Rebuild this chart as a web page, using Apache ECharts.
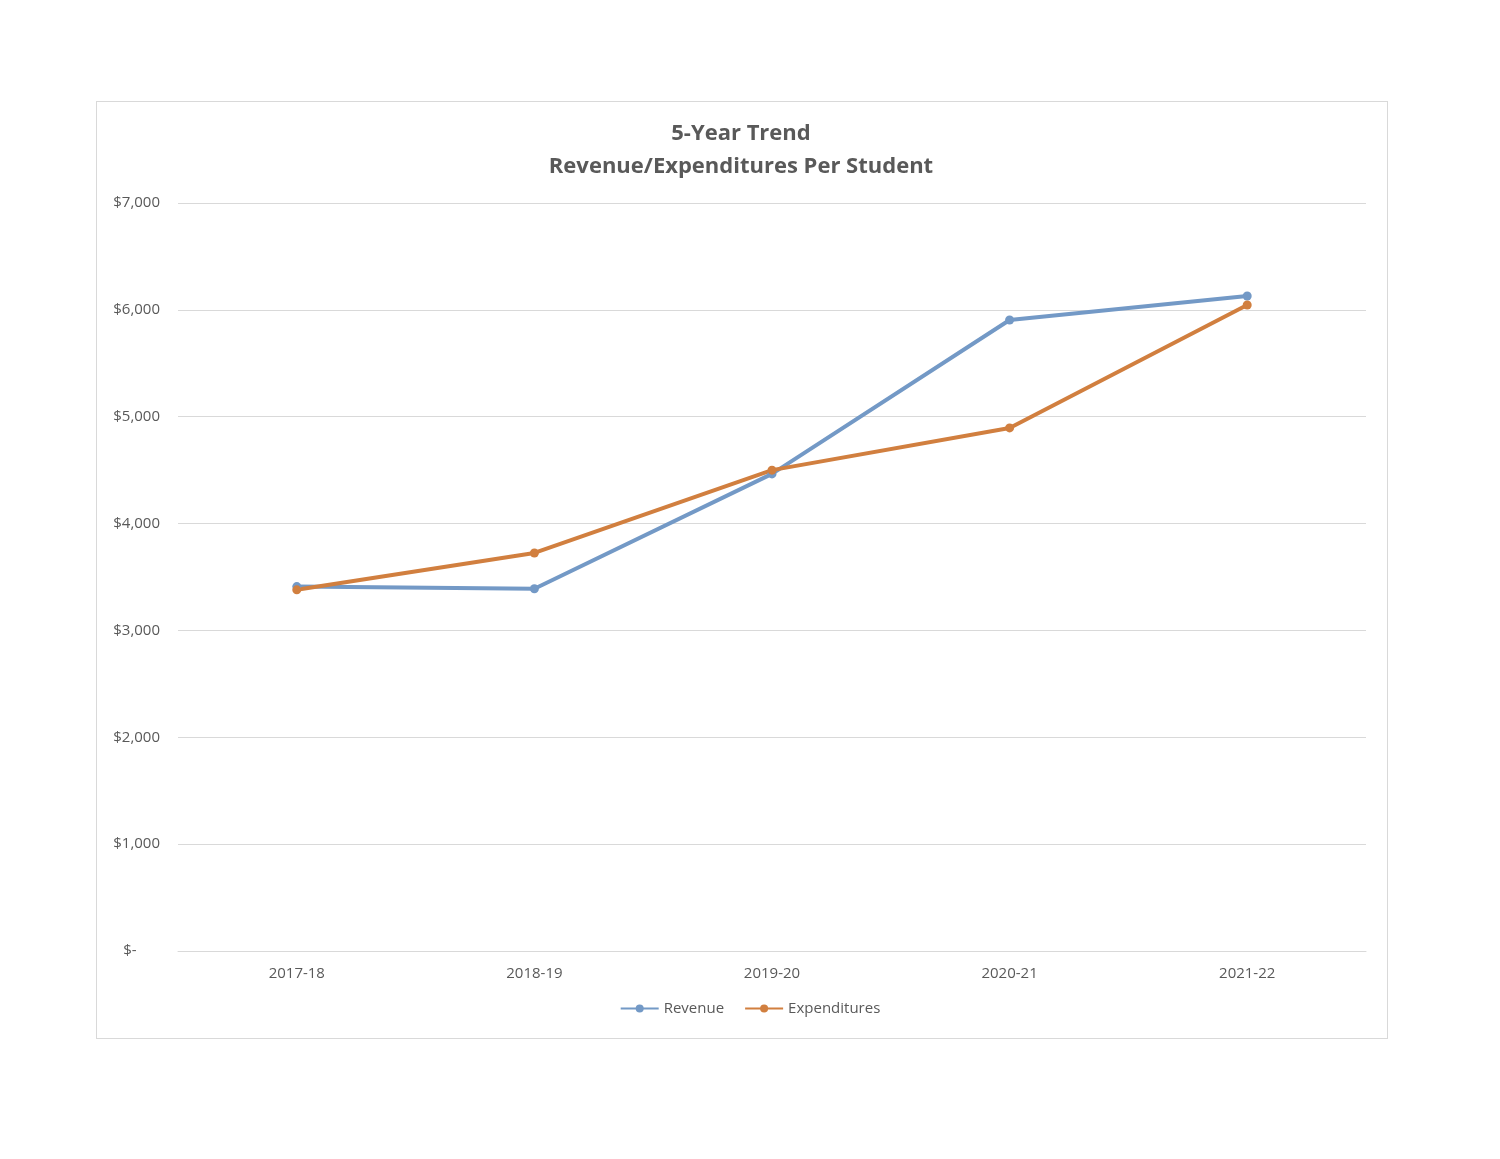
<!DOCTYPE html>
<html><head><meta charset="utf-8">
<script src="https://cdn.jsdelivr.net/npm/echarts@6/dist/echarts.min.js"></script>
<style>html,body{margin:0;padding:0;background:#fff}
#box{position:absolute;left:96px;top:101px;width:1290px;height:936px;border:1px solid #d9d9d9}
#c{position:absolute;left:0;top:0;width:1500px;height:1159px}</style>
</head><body><div id="box"></div><div id="c"></div>
<script>
const categories = ["2017-18","2018-19","2019-20","2020-21","2021-22"];
const revenue = [3410,3390,4465,5905,6130];
const expenditures = [3380,3725,4500,4895,6045];
const chart = echarts.init(document.getElementById('c'));
const font = "Open Sans, Lato, sans-serif";
chart.setOption({
  animation:false,
  title:{text:"5-Year Trend\nRevenue/Expenditures Per Student",left:736,textAlign:'center',top:112,
    textStyle:{fontSize:22,fontWeight:'bold',color:'#595959',lineHeight:33,fontFamily:font}},
  grid:{left:178,right:134,top:203,bottom:208},
  legend:{bottom:138,left:'center',itemWidth:38,itemHeight:10,itemGap:20,
    textStyle:{fontSize:15,color:'#595959',fontFamily:font},
    data:['Revenue','Expenditures']},
  xAxis:{type:'category',data:categories,boundaryGap:true,
    axisLine:{lineStyle:{color:'#d9d9d9'}},axisTick:{show:false},
    axisLabel:{fontSize:15,color:'#595959',margin:15,fontFamily:font}},
  yAxis:{type:'value',min:0,max:7000,interval:1000,
    axisLine:{show:false},axisTick:{show:false},
    splitLine:{lineStyle:{color:'#d9d9d9'}},
    axisLabel:{fontSize:15,color:'#595959',margin:18,fontFamily:font,
      formatter:v=>v===0?'$-      ':'$'+v.toLocaleString('en-US')}},
  series:[
    {name:'Revenue',type:'line',data:revenue,symbol:'circle',symbolSize:9,
      lineStyle:{width:4,color:'#7399c6'},itemStyle:{color:'#7399c6'}},
    {name:'Expenditures',type:'line',data:expenditures,symbol:'circle',symbolSize:9,
      lineStyle:{width:4,color:'#d17f3f'},itemStyle:{color:'#d17f3f'}}
  ]
});
</script></body></html>
